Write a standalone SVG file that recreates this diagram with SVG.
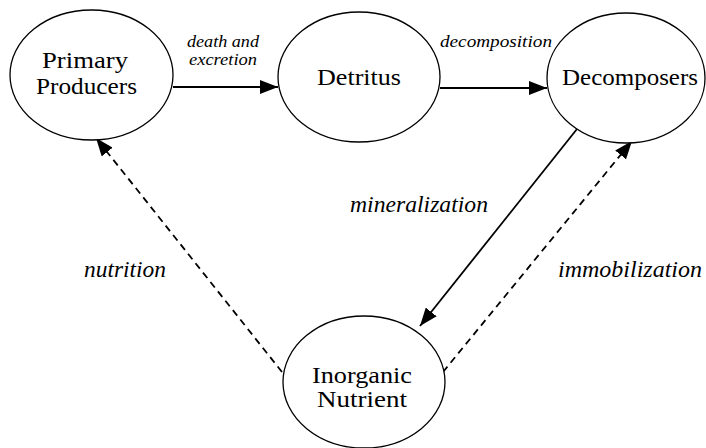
<svg xmlns="http://www.w3.org/2000/svg" width="706" height="448" viewBox="0 0 706 448">
<defs>
<marker id="ah" markerUnits="userSpaceOnUse" markerWidth="18" markerHeight="14" refX="18" refY="7" orient="auto">
<path d="M0,0 L18,7 L0,14 z" fill="#000"/>
</marker>
<style>
.node ellipse{fill:#fff;stroke:#000;stroke-width:1.3}
.c{stroke:#000;stroke-width:1.8;fill:none}
.d{stroke-dasharray:7 5}
</style>
</defs>
<rect width="706" height="448" fill="#fff"/>
<g id="connectors">
<line class="c" x1="173" y1="87" x2="278" y2="87" marker-end="url(#ah)"/>
<line class="c" x1="440" y1="88" x2="547" y2="88" marker-end="url(#ah)"/>
<line class="c" x1="577" y1="129" x2="420" y2="326" marker-end="url(#ah)"/>
<line class="c d" x1="282" y1="372" x2="96" y2="138" marker-end="url(#ah)"/>
<line class="c d" x1="443" y1="372" x2="632" y2="141" marker-end="url(#ah)"/>
<g font-family="Liberation Serif, Times New Roman, serif" font-style="italic" fill="#000">
<text font-size="16" x="187" y="47" textLength="72" lengthAdjust="spacingAndGlyphs">death and</text>
<text font-size="16" x="189" y="65" textLength="68" lengthAdjust="spacingAndGlyphs">excretion</text>
<text font-size="16" x="440" y="47" textLength="112" lengthAdjust="spacingAndGlyphs">decomposition</text>
<text font-size="24" x="350" y="212" textLength="138" lengthAdjust="spacingAndGlyphs">mineralization</text>
<text font-size="24" x="84" y="277" textLength="82" lengthAdjust="spacingAndGlyphs">nutrition</text>
<text font-size="24" x="558" y="277" textLength="144" lengthAdjust="spacingAndGlyphs">immobilization</text>
</g>
</g>
<g id="primary-producers" class="node" font-family="Liberation Serif, Times New Roman, serif" font-size="23" fill="#000">
<ellipse cx="91.5" cy="75" rx="81.5" ry="65"/>
<text x="42" y="68" textLength="86" lengthAdjust="spacingAndGlyphs">Primary</text>
<text x="36" y="94" textLength="101" lengthAdjust="spacingAndGlyphs">Producers</text>
</g>
<g id="detritus" class="node" font-family="Liberation Serif, Times New Roman, serif" font-size="23" fill="#000">
<ellipse cx="359" cy="77" rx="81" ry="65"/>
<text x="317" y="85" textLength="84" lengthAdjust="spacingAndGlyphs">Detritus</text>
</g>
<g id="decomposers" class="node" font-family="Liberation Serif, Times New Roman, serif" font-size="23" fill="#000">
<ellipse cx="626" cy="78" rx="79" ry="65"/>
<text x="562" y="85" textLength="136" lengthAdjust="spacingAndGlyphs">Decomposers</text>
</g>
<g id="inorganic-nutrient" class="node" font-family="Liberation Serif, Times New Roman, serif" font-size="23" fill="#000">
<ellipse cx="364" cy="382" rx="81" ry="66"/>
<text x="312" y="383" textLength="100" lengthAdjust="spacingAndGlyphs">Inorganic</text>
<text x="317" y="407" textLength="90" lengthAdjust="spacingAndGlyphs">Nutrient</text>
</g>
</svg>
